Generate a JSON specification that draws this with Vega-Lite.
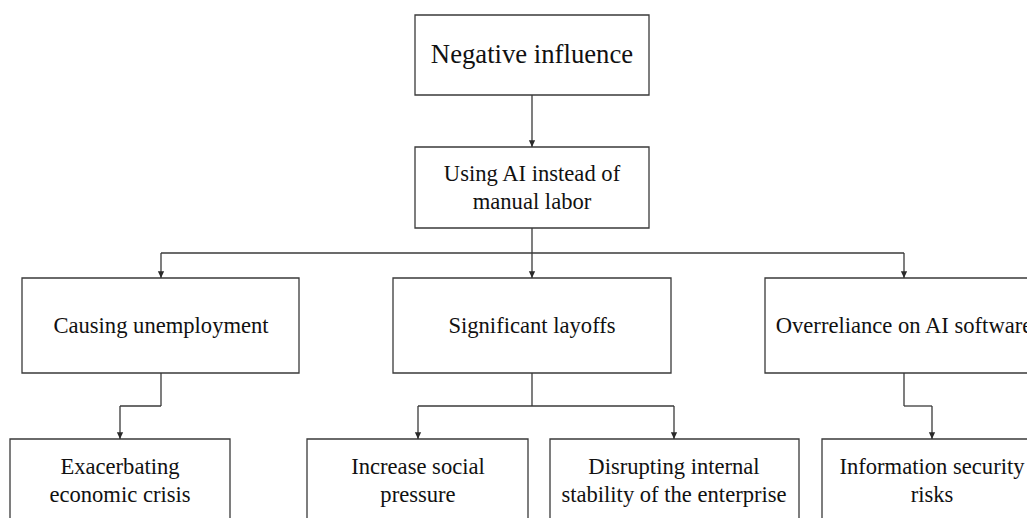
{
  "$schema": "https://vega.github.io/schema/vega-lite/v6.json",
  "width": 1027,
  "height": 518,
  "padding": 0,
  "autosize": {"type": "fit", "contains": "padding"},
  "background": "white",
  "config": {"view": {"stroke": null}},
  "datasets": {
    "boxes": [
      {"id": "Negative influence", "x0": 415, "x1": 649, "y0": 15, "y1": 95},
      {"id": "Using AI instead of manual labor", "x0": 415, "x1": 649, "y0": 147, "y1": 228},
      {"id": "Causing unemployment", "x0": 22, "x1": 299, "y0": 278, "y1": 373},
      {"id": "Significant layoffs", "x0": 393, "x1": 671, "y0": 278, "y1": 373},
      {"id": "Overreliance on AI software", "x0": 765, "x1": 1043, "y0": 278, "y1": 373},
      {"id": "Exacerbating economic crisis", "x0": 10, "x1": 230, "y0": 439, "y1": 540},
      {"id": "Increase social pressure", "x0": 307, "x1": 528, "y0": 439, "y1": 540},
      {"id": "Disrupting internal stability of the enterprise", "x0": 550, "x1": 799, "y0": 439, "y1": 540},
      {"id": "Information security risks", "x0": 822, "x1": 1043, "y0": 439, "y1": 540}
    ],
    "segments": [
      {"x0": 532, "y0": 95, "x1": 532, "y1": 147},
      {"x0": 532, "y0": 228, "x1": 532, "y1": 253},
      {"x0": 161, "y0": 253, "x1": 904, "y1": 253},
      {"x0": 161, "y0": 253, "x1": 161, "y1": 278},
      {"x0": 532, "y0": 253, "x1": 532, "y1": 278},
      {"x0": 904, "y0": 253, "x1": 904, "y1": 278},
      {"x0": 161, "y0": 373, "x1": 161, "y1": 406},
      {"x0": 120, "y0": 406, "x1": 161, "y1": 406},
      {"x0": 120, "y0": 406, "x1": 120, "y1": 439},
      {"x0": 532, "y0": 373, "x1": 532, "y1": 406},
      {"x0": 418, "y0": 406, "x1": 674, "y1": 406},
      {"x0": 418, "y0": 406, "x1": 418, "y1": 439},
      {"x0": 674, "y0": 406, "x1": 674, "y1": 439},
      {"x0": 904, "y0": 373, "x1": 904, "y1": 406},
      {"x0": 904, "y0": 406, "x1": 932, "y1": 406},
      {"x0": 932, "y0": 406, "x1": 932, "y1": 439}
    ],
    "arrows": [
      {"x": 532, "y": 147},
      {"x": 161, "y": 278},
      {"x": 532, "y": 278},
      {"x": 904, "y": 278},
      {"x": 120, "y": 439},
      {"x": 418, "y": 439},
      {"x": 674, "y": 439},
      {"x": 932, "y": 439}
    ],
    "title": [
      {"label": "Negative influence", "x": 532, "y": 55}
    ],
    "labels": [
      {"label": "Using AI instead of\nmanual labor", "x": 532, "y": 174},
      {"label": "Causing unemployment", "x": 161, "y": 326},
      {"label": "Significant layoffs", "x": 532, "y": 326},
      {"label": "Overreliance on AI software", "x": 904, "y": 326},
      {"label": "Exacerbating\neconomic crisis", "x": 120, "y": 467},
      {"label": "Increase social\npressure", "x": 418, "y": 467},
      {"label": "Disrupting internal\nstability of the enterprise", "x": 674, "y": 467},
      {"label": "Information security\nrisks", "x": 932, "y": 467}
    ]
  },
  "layer": [
    {
      "data": {"name": "boxes"},
      "mark": {"type": "rect", "fill": "white", "stroke": "#3a3a3a", "strokeWidth": 1.3, "clip": true},
      "encoding": {
        "x": {"field": "x0", "type": "quantitative", "scale": {"domain": [0, 1027], "nice": false, "zero": false}, "axis": null},
        "x2": {"field": "x1"},
        "y": {"field": "y0", "type": "quantitative", "scale": {"domain": [0, 518], "nice": false, "zero": false, "reverse": true}, "axis": null},
        "y2": {"field": "y1"}
      }
    },
    {
      "data": {"name": "segments"},
      "mark": {"type": "rule", "stroke": "#3a3a3a", "strokeWidth": 1.3, "clip": true},
      "encoding": {
        "x": {"field": "x0", "type": "quantitative"},
        "x2": {"field": "x1"},
        "y": {"field": "y0", "type": "quantitative"},
        "y2": {"field": "y1"}
      }
    },
    {
      "data": {"name": "arrows"},
      "mark": {"type": "point", "shape": "M-0.6,-1.3L0.6,-1.3L0,0Z", "filled": true, "color": "#2a2a2a", "size": 110, "opacity": 1, "strokeWidth": 0},
      "encoding": {
        "x": {"field": "x", "type": "quantitative"},
        "y": {"field": "y", "type": "quantitative"}
      }
    },
    {
      "data": {"name": "title"},
      "mark": {"type": "text", "font": "Liberation Serif", "fontSize": 26.7, "color": "#111", "align": "center", "baseline": "middle"},
      "encoding": {
        "x": {"field": "x", "type": "quantitative"},
        "y": {"field": "y", "type": "quantitative"},
        "text": {"field": "label"}
      }
    },
    {
      "data": {"name": "labels"},
      "mark": {"type": "text", "font": "Liberation Serif", "fontSize": 22.6, "color": "#111", "align": "center", "baseline": "middle", "lineBreak": "\n", "lineHeight": 27.5, "clip": true},
      "encoding": {
        "x": {"field": "x", "type": "quantitative"},
        "y": {"field": "y", "type": "quantitative"},
        "text": {"field": "label"}
      }
    }
  ]
}
